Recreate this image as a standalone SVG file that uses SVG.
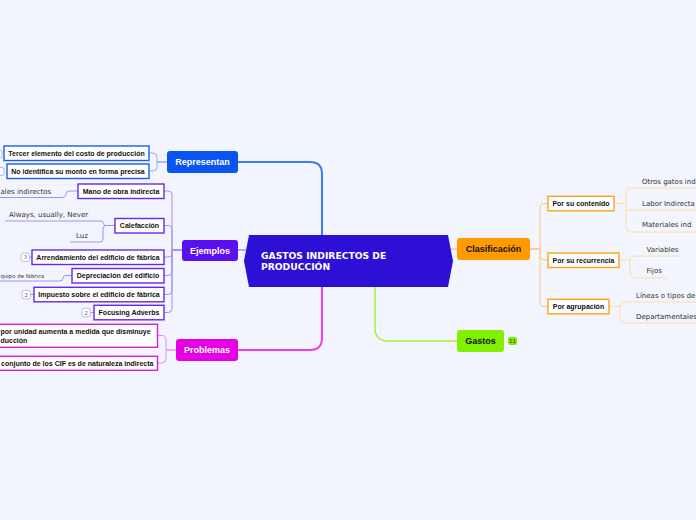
<svg xmlns="http://www.w3.org/2000/svg" width="696" height="520" viewBox="0 0 696 520">
<style>
.mainT{font:bold 9px "Liberation Sans",Arial,sans-serif;fill:#fff;text-anchor:middle}
.mainD{font:bold 9px "Liberation Sans",Arial,sans-serif;fill:#111;text-anchor:middle}
.cb{font:bold 7px "Liberation Sans",Arial,sans-serif;fill:#111;text-anchor:middle}
.cl{font:bold 7px "Liberation Sans",Arial,sans-serif;fill:#111}
.gt{font:7px "DejaVu Sans",Verdana,sans-serif;fill:#333}
.bd{font:5.5px "DejaVu Sans",sans-serif;fill:#666;text-anchor:middle}
.box{fill:#fff;stroke-width:1.4}
.blue{stroke:#1a5cf0}
.purp{stroke:#6a25f0}
.mag{stroke:#d81ed8}
.org{stroke:#ffa11a}
.badge{fill:#fff;stroke:#b9a2f2;stroke-width:0.8}
#connectors path{fill:none}
.cB{stroke:#8badf6;stroke-width:1}
.cP{stroke:#a890f3;stroke-width:1}
.cM{stroke:#f08af0;stroke-width:1}
.cO{stroke:#ffc877;stroke-width:1}
.cO2{stroke:#ffdcaa;stroke-width:1}
</style>
<rect width="696" height="520" fill="#f2f5fd"/>
<g id="connectors">
  <path d="M238,162 H310 Q322,162 322,174 V236" stroke="#3d7cf5" stroke-width="2"/>
  <path d="M238,350 H310 Q322,350 322,338 V286" stroke="#f03cf0" stroke-width="2"/>
  <path d="M375,286 V328 Q375,341 388,341 H458" stroke="#a6ef40" stroke-width="1.5"/>
  <path d="M238,250 H246" stroke="#a890f3" stroke-width="1.5"/>
  <path d="M450,249 H458" stroke="#ffc877" stroke-width="1.5"/>
  <path class="cB" d="M167,162 H157 V157 Q157,153 153,153 H149"/>
  <path class="cB" d="M167,162 H157 V167 Q157,171 153,171 H149"/>
  <path class="cP" d="M182,250 H172 V195 Q172,191 168,191 H164"/>
  <path class="cP" d="M182,250 H172 V229 Q172,225.5 168,225.5 H164"/>
  <path class="cP" d="M182,250 H172 V253 Q172,257 168,257 H164"/>
  <path class="cP" d="M182,250 H172 V271.5 Q172,275.5 168,275.5 H164"/>
  <path class="cP" d="M182,250 H172 V290.5 Q172,294.5 168,294.5 H164"/>
  <path class="cP" d="M182,250 H172 V308.5 Q172,312.5 168,312.5 H164"/>
  <path class="cP" d="M78,191 H70 Q66,191 66,194 Q66,197.5 62,197.5 H0"/>
  <path class="cP" d="M115,225.5 H106 Q103,225.5 103,222 Q103,221 100,221 H5"/>
  <path class="cP" d="M115,225.5 H106 Q103,225.5 103,229 V239 Q103,242 100,242 H70"/>
  <path class="cP" d="M72,275.5 H66 Q63,275.5 63,278 Q63,281 60,281 H0"/>
  <path class="cP" d="M32,257 H30"/>
  <path class="cP" d="M34,294.5 H30"/>
  <path class="cP" d="M94,312.5 H91"/>
  <path class="cM" d="M176,350 H166 V340 Q166,335.5 162,335.5 H158"/>
  <path class="cM" d="M176,350 H166 V359 Q166,363 162,363 H158"/>
  <path class="cO" d="M530,249 H540 V208 Q540,203.5 544,203.5 H548"/>
  <path class="cO" d="M530,249 H540 V256 Q540,260 544,260 H548"/>
  <path class="cO" d="M530,249 H540 V302 Q540,306.5 544,306.5 H548"/>
  <path class="cO2" d="M614,203.5 H626 V193 Q626,188 631,188 H696"/>
  <path class="cO2" d="M614,203.5 H626 V210 H696"/>
  <path class="cO2" d="M626,210 V227 Q626,232 631,232 H696"/>
  <path class="cO2" d="M619,260 H630 V261 Q630,256 635,256 H682"/>
  <path class="cO2" d="M630,260 V273 Q630,278 635,278 H667"/>
  <path class="cO2" d="M609,306.5 H620 V307 Q620,302 625,302 H696"/>
  <path class="cO2" d="M620,306 V318 Q620,323 625,323 H696"/>
</g>
<g id="center">
  <polygon points="244,261 249,235 448,235 453,261 448,287 249,287" fill="#2e0fd6"/>
  <text x="261" y="259" style="font:bold 9.2px 'DejaVu Sans',Verdana,sans-serif;fill:#fff">GASTOS INDIRECTOS DE</text>
  <text x="261" y="270" style="font:bold 9.2px 'DejaVu Sans',Verdana,sans-serif;fill:#fff">PRODUCCIÓN</text>
</g>
<g id="representan">
  <rect x="167" y="151" width="71" height="22" rx="3" fill="#0a55ef"/>
  <text class="mainT" x="202.5" y="165.2">Representan</text>
</g>
<g id="ejemplos">
  <rect x="182" y="240" width="56" height="21" rx="3" fill="#5b10f2"/>
  <text class="mainT" x="210" y="253.8">Ejemplos</text>
</g>
<g id="problemas">
  <rect x="176" y="339" width="62" height="22" rx="3" fill="#e600e6"/>
  <text class="mainT" x="207" y="353.2">Problemas</text>
</g>
<g id="clasificacion">
  <rect x="457" y="238" width="73" height="22" rx="3" fill="#ff9a00"/>
  <text class="mainD" x="493.5" y="252.2">Clasificación</text>
</g>
<g id="gastos">
  <rect x="457" y="330" width="47" height="22" rx="3" fill="#80f000"/>
  <text class="mainD" x="480.5" y="344.2">Gastos</text>
  <rect x="508" y="337" width="9" height="8" rx="2" fill="#80f000"/>
  <text x="512.5" y="343" style="font:5.5px 'DejaVu Sans',sans-serif;fill:#333;text-anchor:middle">11</text>
</g>
<g id="rep1">
  <rect class="badge" x="-4" y="150" width="6" height="8" rx="2" style="stroke:#8badf6"/>
  <rect class="box blue" x="4" y="146" width="145" height="14.5"/>
  <text class="cb" x="76.5" y="155.8">Tercer elemento del costo de producción</text>
</g>
<g id="rep2">
  <rect class="badge" x="-3" y="167.5" width="7" height="8" rx="2" style="stroke:#8badf6"/>
  <rect class="box blue" x="7" y="164" width="142" height="14.5"/>
  <text class="cb" x="78" y="173.8">No identifica su monto en forma precisa</text>
</g>
<g id="ej1">
  <rect class="box purp" x="78" y="184" width="86" height="14.5"/>
  <text class="cb" x="121" y="193.8">Mano de obra indirecta</text>
  <text class="gt" x="0.5" y="193.5">ales indirectos</text>
</g>
<g id="ej2">
  <rect class="box purp" x="115" y="218.5" width="49" height="14.5"/>
  <text class="cb" x="139.5" y="228.3">Calefacción</text>
  <text class="gt" x="9" y="216.5">Always, usually, Never</text>
  <text class="gt" x="76" y="237.8">Luz</text>
</g>
<g id="ej3">
  <rect class="badge" x="21" y="253" width="8.5" height="8.5" rx="2.5"/>
  <text class="bd" x="25.3" y="259.4">3</text>
  <rect class="box purp" x="32" y="250" width="132" height="14.5"/>
  <text class="cb" x="98" y="259.8">Arrendamiento del edificio de fábrica</text>
</g>
<g id="ej4">
  <rect class="box purp" x="72" y="268.5" width="92" height="14.5"/>
  <text class="cb" x="118" y="278.3">Depreciación del edificio</text>
  <text x="0.5" y="277.8" style="font:5.4px 'DejaVu Sans',sans-serif;fill:#333">quipo de fábrica</text>
</g>
<g id="ej5">
  <rect class="badge" x="22" y="290.3" width="8.5" height="8.5" rx="2.5"/>
  <text class="bd" x="26.3" y="296.7">2</text>
  <rect class="box purp" x="34" y="287.3" width="130" height="14.5"/>
  <text class="cb" x="99" y="297.1">Impuesto sobre el edificio de fábrica</text>
</g>
<g id="ej6">
  <rect class="badge" x="82" y="308.3" width="8.5" height="8.5" rx="2.5"/>
  <text class="bd" x="86.3" y="314.7">2</text>
  <rect class="box purp" x="94" y="305.3" width="70" height="14.5"/>
  <text class="cb" x="129" y="315.1">Focusing Adverbs</text>
</g>
<g id="pr1">
  <rect class="box mag" x="-3" y="324.3" width="160.5" height="23"/>
  <text class="cl" x="0.5" y="334.2">por unidad aumenta a medida que disminuye</text>
  <text class="cl" x="0.5" y="342.8">ducción</text>
</g>
<g id="pr2">
  <rect class="box mag" x="-3" y="356.3" width="160.5" height="14"/>
  <text class="cl" x="1" y="365.8">conjunto de los CIF es de naturaleza indirecta</text>
</g>
<g id="cl1">
  <rect class="box org" x="548" y="196.3" width="66" height="14.5"/>
  <text class="cb" x="581" y="206.1">Por su contenido</text>
  <text class="gt" x="642" y="184">Otros gatos ind</text>
  <text class="gt" x="642" y="206">Labor Indirecta</text>
  <text class="gt" x="642" y="227">Materiales ind</text>
</g>
<g id="cl2">
  <rect class="box org" x="548" y="253" width="71" height="14.5"/>
  <text class="cb" x="583.5" y="262.8">Por su recurrencia</text>
  <text class="gt" x="646.5" y="252">Variables</text>
  <text class="gt" x="646.5" y="273">Fijos</text>
</g>
<g id="cl3">
  <rect class="box org" x="548" y="299.3" width="61" height="14.5"/>
  <text class="cb" x="578.5" y="309.1">Por agrupación</text>
  <text class="gt" x="636" y="298">Líneas o tipos de</text>
  <text class="gt" x="636" y="318.5">Departamentales</text>
</g>
</svg>
